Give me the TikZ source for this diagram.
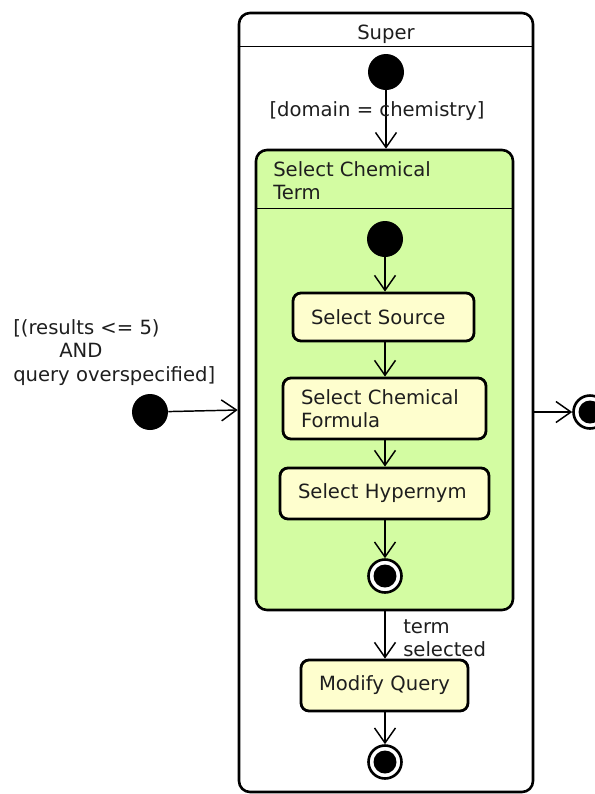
\documentclass[tikz,border=0pt]{standalone}
\usepackage{fontspec}
\setmainfont{DejaVu Sans}
\usetikzlibrary{arrows.meta}
\newdimen\pxu
\pxu=0.75pt
\definecolor{compfill}{RGB}{211,252,162}
\definecolor{actfill}{RGB}{254,254,206}
\definecolor{inktext}{RGB}{30,30,30}
\tikzset{
  base/.style={font=\fontsize{14.7}{17.6}\selectfont, text=inktext},
  composite/.style={draw=black, line width=2.6\pxu, rounded corners=11\pxu, inner sep=0pt},
  activity/.style={base, draw=black, line width=2.8\pxu, fill=actfill, rounded corners=8\pxu, inner sep=0pt, align=left},
  initstate/.style={circle, fill=black, minimum size=36\pxu, inner sep=0pt},
  finalring/.style={circle, draw=black, line width=2.6\pxu, fill=white, minimum size=33\pxu, inner sep=0pt},
  finaldot/.style={circle, fill=black, minimum size=23\pxu, inner sep=0pt},
  flow/.style={draw=black, line width=1.1pt, -{Straight Barb[length=11.25pt, width=15.75pt, line width=1.1pt]}},
  lbl/.style={base, inner sep=0pt, align=left}
}
\begin{document}
\begin{tikzpicture}[x=0.75pt, y=-0.75pt]
\useasboundingbox (0,0) rectangle (595,794);

% outer composite state
\node[composite, minimum width=294\pxu, minimum height=779\pxu] (super) at (386,402.5) {};
\draw[line width=1.5\pxu] ([yshift=-35\pxu]super.north west) -- ([yshift=-35\pxu]super.north east);
\node[base] (supertitle) at (386,34.5) {Super};

% inner composite state
\node[composite, fill=compfill, minimum width=257\pxu, minimum height=460\pxu] (chem) at (384.5,380) {};
\draw[line width=1.5\pxu] ([yshift=-60\pxu]chem.north west) -- ([yshift=-60\pxu]chem.north east);
\node[lbl, anchor=north west] (chemtitle) at (273,161) {Select Chemical\\Term};

% states (text sits 18px in from the left edge of each box)
\node[initstate] (start) at (386,72) {};
\node[initstate] (innerstart) at (385,239) {};
\node[activity, minimum width=181\pxu, minimum height=48\pxu, text width=145\pxu] (source) at (383.5,317) {Select Source};
\node[activity, minimum width=203\pxu, minimum height=61\pxu, text width=167\pxu] (formula) at (384.5,408.5) {Select Chemical\\Formula};
\node[activity, minimum width=209\pxu, minimum height=51\pxu, text width=173\pxu] (hyper) at (384.5,493.5) {Select Hypernym};
\node[finalring] (innerend) at (385,576) {};
\node[finaldot] (innerenddot) at (innerend) {};
\node[activity, minimum width=167\pxu, minimum height=51\pxu, text width=131\pxu] (modify) at (384.5,685.5) {\mbox{Modify Query}};
\node[finalring] (superend) at (385,762) {};
\node[finaldot] (superenddot) at (superend) {};

\node[initstate] (outerstart) at (150,412) {};
\node[finalring] (outerend) at (590,412) {};
\node[finaldot] (outerenddot) at (outerend) {};

% transitions
\draw[flow] (start) -- (start |- chem.north);
\draw[flow] (innerstart) -- (innerstart |- source.north);
\draw[flow] (source.south -| innerstart) -- (innerstart |- formula.north);
\draw[flow] (formula.south -| innerstart) -- (innerstart |- hyper.north);
\draw[flow] (hyper.south -| innerstart) -- (innerend);
\draw[flow] (chem.south -| innerstart) -- (innerstart |- modify.north);
\draw[flow] (modify.south -| innerstart) -- (superend);
\draw[flow] (outerstart) -- ([yshift=2\pxu]outerstart -| super.west);
\draw[flow] (super.east |- outerend) -- (outerend);

% guards
\node[lbl] (domainguard) at (377,111) {[domain = chemistry]};
\node[lbl, anchor=north west] (selguard) at (403,619) {term\\selected};
\node[lbl, anchor=north west] (resguard) at (13,319) {[(results <= 5)\\\hspace*{46\pxu}AND\\query overspecified]};
\end{tikzpicture}
\end{document}
